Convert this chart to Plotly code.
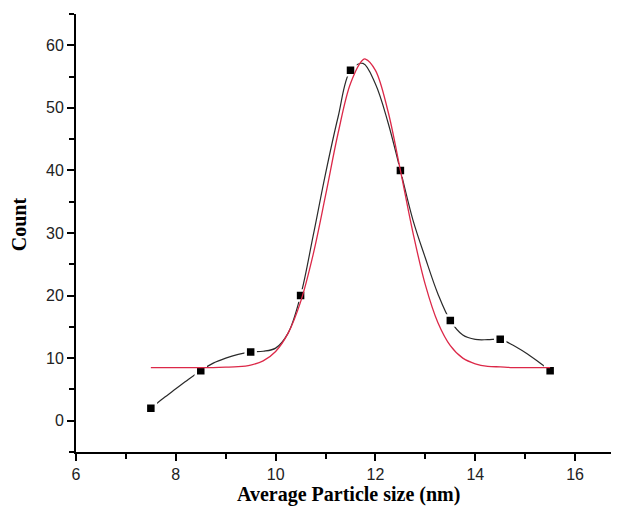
import plotly.graph_objects as go

# Measured data (histogram counts)
size_nm = [7.5, 8.5, 9.5, 10.5, 11.5, 12.5, 13.5, 14.5, 15.5]
count = [2, 8, 11, 20, 56, 40, 16, 13, 8]

# Smooth connecting line through the data
conn_x = [7.5, 7.75, 8.0, 8.25, 8.5, 8.75, 9.0, 9.25, 9.5, 9.75, 10.0, 10.25,
          10.5, 10.75, 11.0, 11.25, 11.5, 11.75, 12.0, 12.25, 12.5, 12.75,
          13.0, 13.25, 13.5, 13.75, 14.0, 14.25, 14.5, 14.75, 15.0, 15.25, 15.5]
conn_y = [2, 3.6, 5.1, 6.6, 8, 9.2, 10.0, 10.6, 11, 11.1, 11.6, 14.0,
          20, 29.5, 39.5, 48.5, 56, 57.1, 53.8, 47.7, 40, 32.1,
          26.0, 20.3, 16, 13.7, 13.0, 12.95, 13, 12.1, 10.9, 9.5, 8]

# Gaussian fit curve
fit_x = [7.5, 7.75, 8.0, 8.25, 8.5, 8.75, 9.0, 9.25, 9.5, 9.75, 10.0, 10.25,
         10.5, 10.75, 11.0, 11.25, 11.5, 11.75, 11.8, 12.0, 12.25, 12.5, 12.75,
         13.0, 13.25, 13.5, 13.75, 14.0, 14.25, 14.5, 14.75, 15.0, 15.25, 15.5]
fit_y = [8.5, 8.5, 8.5, 8.5, 8.5, 8.5, 8.55, 8.63, 8.9, 9.56, 11.06, 13.99,
         19.0, 26.5, 36.0, 45.9, 53.9, 57.7, 57.8, 56.0, 49.5, 40.0, 30.1,
         21.7, 15.7, 12.0, 10.0, 9.1, 8.7, 8.6, 8.5, 8.5, 8.5, 8.5]

x_ticks = [6, 8, 10, 12, 14, 16]
y_ticks = [0, 10, 20, 30, 40, 50, 60]

fig = go.Figure()
fig.add_trace(go.Scatter(x=conn_x, y=conn_y, mode="lines",
                         line=dict(color="#2a2a2a", width=1.2, shape="spline", smoothing=1.0),
                         showlegend=False, hoverinfo="skip"))
fig.add_trace(go.Scatter(x=size_nm, y=count, mode="markers",
                         marker=dict(symbol="square", size=10, color="black",
                                     line=dict(color="white", width=2.5)),
                         showlegend=False))
fig.add_trace(go.Scatter(x=fit_x, y=fit_y, mode="lines",
                         line=dict(color="#dc2848", width=1.3, shape="spline", smoothing=1.0),
                         showlegend=False))

tick_font = dict(family="Liberation Sans, Arial, sans-serif", size=16, color="#222")
title_font = dict(family="Liberation Serif, Times New Roman, serif", size=20, color="black")

# The page body adds an 8 px offset, so margins are reduced by 8 px on the left/top.
fig.update_layout(
    width=619, height=506,
    margin=dict(l=68, r=2, t=6, b=62, autoexpand=False),
    paper_bgcolor="white", plot_bgcolor="white",
    xaxis=dict(range=[6, 17], tickvals=x_ticks, showgrid=False, zeroline=False,
               showline=True, linecolor="black", linewidth=2, automargin=False,
               ticks="outside", ticklen=7, tickwidth=2, tickcolor="black",
               minor=dict(dtick=1, tick0=6, ticks="outside", ticklen=5, tickwidth=2, tickcolor="black"),
               tickfont=tick_font),
    yaxis=dict(range=[-5, 65], tickvals=y_ticks, showgrid=False, zeroline=False,
               showline=True, linecolor="black", linewidth=2, automargin=False,
               ticks="outside", ticklen=7, tickwidth=2, tickcolor="black",
               minor=dict(dtick=5, tick0=5, ticks="outside", ticklen=5, tickwidth=2, tickcolor="black"),
               tickfont=tick_font),
    annotations=[
        dict(text="<b>Average Particle size (nm)</b>", xref="paper", yref="paper",
             x=0.497, y=-0.066, xanchor="center", yanchor="top", showarrow=False,
             font=title_font),
        dict(text="<b>Count</b>", xref="paper", yref="paper", textangle=-90,
             x=-0.1035, y=0.5205, xanchor="center", yanchor="middle", showarrow=False,
             font=title_font),
    ],
)

fig.write_html("out.html")
